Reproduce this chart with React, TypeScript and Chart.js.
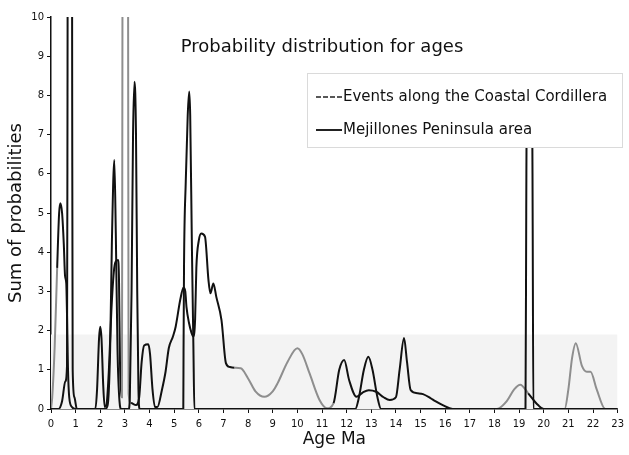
import React, { useEffect, useRef } from "react";
import { Chart, registerables } from "chart.js";

Chart.register(...registerables);

// ---- Data ----
const coastalAge = [
  0, 0.05, 0.15, 0.25, 0.33, 0.38, 0.45, 0.52, 0.57, 0.62, 0.65, 0.69, 0.74, 0.85, 1.0,
  1.8, 1.87, 1.95, 2.0, 2.05, 2.12, 2.18, 2.25, 2.35, 2.45, 2.55, 2.62, 2.72, 2.76, 2.8, 2.86,
  2.88, 2.9, 2.93, 3.1, 3.13, 3.15, 3.25, 3.45, 3.58, 3.68, 3.78, 3.95, 4.02, 4.12, 4.22, 4.32,
  4.5, 4.65, 4.78, 4.95, 5.06, 5.25, 5.38, 5.45, 5.5, 5.6, 5.7, 5.78, 5.85, 5.9, 6.0, 6.1, 6.25,
  6.39, 6.47, 6.59, 6.71, 6.92, 7.1, 7.26, 7.45, 7.7, 8.0, 8.3, 8.66, 9.0, 9.2, 9.6, 10.0, 10.2,
  10.5, 10.9, 11.2, 11.47, 11.7, 11.9, 12.1, 12.4, 12.65, 12.9, 13.2, 13.5, 13.75, 14.0, 14.15,
  14.33, 14.45, 14.6, 14.9, 15.1, 15.4, 15.6, 15.9, 16.3, 18.1, 18.5, 18.8, 19.05, 19.37, 19.77,
  20.0, 20.85, 21.0, 21.15, 21.3, 21.55, 21.75, 21.9, 22.15, 22.5, 23,
];
const coastalSum = [
  0, 0.3, 1.6, 3.6, 5.0, 5.25, 5.0, 4.2, 3.4, 3.2, 2.4, 1.0, 0.3, 0.05, 0,
  0, 0.5, 1.8, 2.1, 1.8, 0.6, 0.05, 0.1, 1.0, 2.5, 3.5, 3.75, 3.8, 3.3, 1.2, 0.3,
  0.3, 10, 22, 22, 10, 0.4, 0.15, 0.1, 0.3, 1.2, 1.62, 1.65, 1.4, 0.5, 0.05, 0.05,
  0.48, 0.95, 1.55, 1.85, 2.1, 2.8, 3.1, 3.0, 2.6, 2.2, 1.95, 1.85, 2.3, 3.6, 4.3, 4.48, 4.4,
  3.3, 2.95, 3.2, 2.86, 2.27, 1.17, 1.07, 1.05, 1.04, 0.78, 0.45, 0.31, 0.45, 0.66, 1.2, 1.55, 1.4,
  0.9, 0.23, 0.02, 0.15, 1.0, 1.25, 0.74, 0.31, 0.42, 0.48, 0.44, 0.3, 0.23, 0.3, 1.0,
  1.81, 1.2, 0.48, 0.4, 0.38, 0.28, 0.2, 0.1, 0, 0, 0.2, 0.5, 0.62, 0.4, 0.1,
  0, 0, 0.5, 1.3, 1.68, 1.1, 0.95, 0.95, 0.5, 0, 0,
];

const mejillonesAge = [
  0, 0.3, 0.45, 0.58, 0.65, 0.67, 0.7, 0.83, 0.86, 0.88, 0.95, 1.05,
  2.2, 2.3, 2.4, 2.47, 2.57, 2.63, 2.7, 2.78, 2.85,
  3.15, 3.2, 3.27, 3.33, 3.39, 3.45, 3.5, 3.55, 3.6,
  5.3, 5.37, 5.38, 5.4, 5.47, 5.55, 5.61, 5.65, 5.72, 5.78, 5.82,
  12.35, 12.5, 12.7, 12.88, 13.05, 13.25, 13.4,
  19.26, 19.29, 19.31, 19.42, 19.53, 19.55, 19.58, 23,
];
const mejillonesSum = [
  0, 0, 0.2, 0.7, 1.1, 8, 24, 24, 8, 1.0, 0.3, 0,
  0, 0.1, 1.5, 4.2, 6.35, 4.5, 1.5, 0.2, 0,
  0, 0.3, 3, 7, 8.35, 7, 3, 0.5, 0,
  0, 0, 1.5, 3.7, 5.8, 7.5, 8.1, 7.5, 4.1, 1.6, 0,
  0, 0.3, 1.0, 1.33, 1.0, 0.3, 0,
  0, 5, 7.8, 8.3, 7.8, 5, 0, 0,
];

const bandAge = [0, 23];
const bandSum = [1.9, 1.9];

const seriesNames = ["Events along the Coastal Cordillera", "Mejillones Peninsula area"];
const chartTitle = "Probability distribution for ages";
const xTitle = "Age Ma";
const yTitle = "Sum of probabilities";
const xMin = 0;
const xMax = 23;
const yMin = 0;
const yMax = 10;

// ---- Styles ----
const FONT = '"DejaVu Sans", Verdana, sans-serif';
const INK = "#111111";
const FADED = "#8e8e8e";
const FADED_SPANS: number[][] = [
  [0, 0.2],
  [2.86, 3.16],
  [7.35, 11.25],
  [17.9, 19.1],
  [20.6, 23.1],
];

const toPoints = (xs: number[], ys: number[]) => {
  const n = Math.min(xs.length, ys.length);
  const out: { x: number; y: number }[] = [];
  for (let i = 0; i < n; i++) out.push({ x: xs[i], y: ys[i] });
  return out;
};

const overlayPlugin = {
  id: "overlay",
  afterDatasetsDraw(chart: any) {
    const ctx = chart.ctx as CanvasRenderingContext2D;
    ctx.save();
    // title
    ctx.fillStyle = INK;
    ctx.font = `18px ${FONT}`;
    ctx.textAlign = "center";
    ctx.textBaseline = "middle";
    ctx.fillText(chartTitle, 322, 47);

    // legend box
    const bx = 307, by = 73, bw = 315, bh = 74;
    ctx.fillStyle = "#ffffff";
    ctx.fillRect(bx, by, bw, bh);
    ctx.strokeStyle = "#dadada";
    ctx.lineWidth = 1;
    ctx.strokeRect(bx + 0.5, by + 0.5, bw, bh);

    // entry 1
    ctx.strokeStyle = "#222";
    ctx.lineWidth = 1.6;
    ctx.setLineDash([5, 2]);
    ctx.beginPath();
    ctx.moveTo(316, 97);
    ctx.lineTo(342, 97);
    ctx.stroke();
    // entry 2
    ctx.setLineDash([]);
    ctx.lineWidth = 2;
    ctx.beginPath();
    ctx.moveTo(316, 130);
    ctx.lineTo(342, 130);
    ctx.stroke();

    ctx.fillStyle = INK;
    ctx.font = `15px ${FONT}`;
    ctx.textAlign = "left";
    ctx.fillText(seriesNames[0], 343, 97);
    ctx.fillText(seriesNames[1], 343, 130);
    ctx.restore();
  },
};

export default function App() {
  const ref = useRef<HTMLCanvasElement | null>(null);

  useEffect(() => {
    if (!ref.current) return;
    const isFaded = (x: number) => FADED_SPANS.some(([a, b]) => x >= a && x < b);

    const chart = new Chart(ref.current, {
      type: "line",
      data: {
        datasets: [
          {
            label: seriesNames[0],
            data: toPoints(coastalAge, coastalSum),
            borderColor: INK,
            borderWidth: 2,
            pointRadius: 0,
            fill: false,
            cubicInterpolationMode: "monotone",
            segment: {
              borderColor: (c: any) => (isFaded(c.p0.parsed.x) ? FADED : INK),
            },
            order: 1,
          },
          {
            label: seriesNames[1],
            data: toPoints(mejillonesAge, mejillonesSum),
            borderColor: INK,
            borderWidth: 2,
            pointRadius: 0,
            fill: false,
            cubicInterpolationMode: "monotone",
            order: 0,
          },
          {
            label: "band",
            data: toPoints(bandAge, bandSum),
            borderWidth: 0,
            borderColor: "rgba(0,0,0,0)",
            backgroundColor: "#f3f3f3",
            pointRadius: 0,
            fill: "origin",
            order: 10,
          },
        ],
      } as any,
      options: {
        responsive: false,
        animation: false,
        devicePixelRatio: 1,
        layout: { padding: { left: 2, right: 6, top: 17, bottom: 1 } },
        plugins: {
          legend: { display: false },
          title: { display: false },
          tooltip: { enabled: false },
        },
        scales: {
          x: {
            type: "linear",
            min: xMin,
            max: xMax,
            afterFit: (s: any) => {
              s.height = 45;
            },
            ticks: {
              stepSize: 1,
              color: INK,
              padding: 5,
              maxRotation: 0,
              autoSkip: false,
              font: { family: FONT, size: 10 },
            },
            grid: {
              display: true,
              drawOnChartArea: false,
              drawTicks: true,
              tickLength: 4,
              color: INK,
            },
            border: { display: true, color: INK, width: 1.5 },
            title: {
              display: true,
              text: xTitle,
              color: INK,
              font: { family: FONT, size: 17 },
              padding: { top: 2, bottom: 4 },
            },
          },
          y: {
            type: "linear",
            min: yMin,
            max: yMax,
            afterFit: (s: any) => {
              s.width = 49;
            },
            ticks: {
              stepSize: 1,
              color: INK,
              padding: 3,
              font: { family: FONT, size: 10 },
            },
            grid: {
              display: true,
              drawOnChartArea: false,
              drawTicks: true,
              tickLength: 4,
              color: INK,
            },
            border: { display: true, color: INK, width: 1.5 },
            title: {
              display: true,
              text: yTitle,
              color: INK,
              font: { family: FONT, size: 18 },
              padding: { top: 4, bottom: 4 },
            },
          },
        },
      } as any,
      plugins: [overlayPlugin],
    });

    return () => chart.destroy();
  }, []);

  return (
    <div style={{ position: "fixed", left: 0, top: 0, width: 629, height: 455, background: "#fff" }}>
      <canvas ref={ref} width={629} height={455} style={{ width: 629, height: 455, display: "block" }} />
    </div>
  );
}
